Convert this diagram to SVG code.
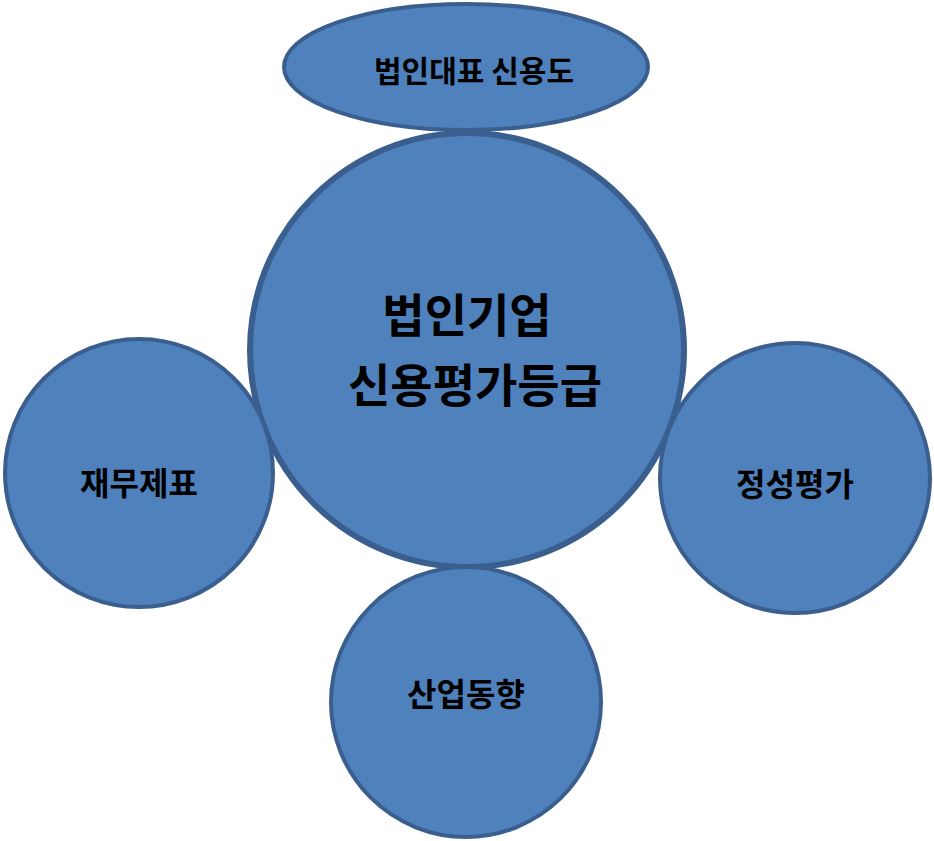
<svg xmlns="http://www.w3.org/2000/svg" width="934" height="841" viewBox="0 0 934 841">
<style>
.n{fill:#4F81BD;stroke:#3A5F8F;stroke-width:4}
.t{font-family:"Noto Sans CJK KR",sans-serif;font-weight:bold;fill:#000;text-anchor:middle}
</style>
<rect width="934" height="841" fill="#fff"/>
<g id="center"><circle class="n" cx="467" cy="350" r="217" style="stroke-width:6"/>
<text class="t" x="467" y="332" font-size="46">법인기업</text>
<text class="t" x="475" y="402" font-size="46">신용평가등급</text></g>
<g id="top"><ellipse class="n" cx="466" cy="67" rx="182" ry="63"/>
<text class="t" x="474" y="82" font-size="30">법인대표 신용도</text></g>
<g id="left"><circle class="n" cx="139" cy="473" r="134"/>
<text class="t" x="139" y="495" font-size="32">재무제표</text></g>
<g id="right"><circle class="n" cx="795" cy="478" r="135"/>
<text class="t" x="795" y="496" font-size="32">정성평가</text></g>
<g id="bottom"><circle class="n" cx="466" cy="702" r="135"/>
<text class="t" x="466" y="706" font-size="32">산업동향</text></g>
<g id="connectors"/>
</svg>
